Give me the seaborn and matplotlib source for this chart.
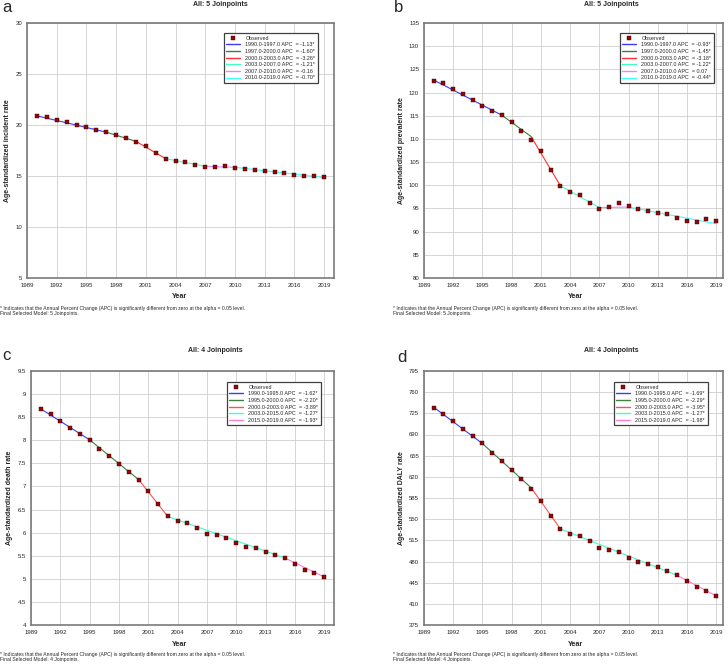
import numpy as np
import pandas as pd
import matplotlib
matplotlib.use("Agg")
import matplotlib.pyplot as plt
import seaborn as sns
from matplotlib.lines import Line2D

years = list(range(1990, 2020))

incidence = [20.85, 20.75, 20.52, 20.29, 20.0, 19.8, 19.54, 19.31, 19.05, 18.73,
             18.37, 17.94, 17.25, 16.67, 16.47, 16.34, 16.08, 15.85, 15.88, 15.95,
             15.82, 15.69, 15.59, 15.49, 15.39, 15.29, 15.13, 15.0, 15.0, 14.87]
prevalence = [122.5, 122.1, 120.8, 119.6, 118.3, 117.2, 116.0, 115.1, 113.7, 111.7,
              109.8, 107.3, 103.3, 99.9, 98.5, 97.8, 96.2, 94.9, 95.3, 96.2,
              95.5, 94.9, 94.5, 94.0, 93.7, 93.0, 92.4, 92.1, 92.7, 92.2]
death = [8.67, 8.56, 8.41, 8.27, 8.14, 8.00, 7.82, 7.66, 7.49, 7.32,
         7.14, 6.90, 6.61, 6.36, 6.25, 6.20, 6.10, 5.97, 5.94, 5.89,
         5.77, 5.69, 5.66, 5.59, 5.52, 5.44, 5.33, 5.20, 5.13, 5.04]
daly = [734.5, 724.6, 711.5, 698.8, 687.8, 675.7, 659.8, 645.5, 631.2, 616.3,
        600.4, 580.1, 555.3, 534.4, 525.1, 521.8, 513.5, 502.5, 499.8, 496.0,
        485.5, 479.5, 476.2, 470.7, 464.1, 457.5, 448.1, 437.1, 431.1, 423.4]

# joinpoints and fitted values at them
jp_a = [1990, 1997, 2000, 2003, 2007, 2010, 2019]
fit_a = [20.9, 19.3, 18.4, 16.7, 15.95, 15.85, 14.85]
apc_a = ["-1.13*", "-1.60*", "-3.26*", "-1.21*", "-0.16", "-0.70*"]

jp_b = [1990, 1997, 2000, 2003, 2007, 2010, 2019]
fit_b = [122.7, 115.1, 110.5, 99.9, 95.2, 95.3, 91.7]
apc_b = ["-0.93*", "-1.45*", "-3.18*", "-1.22*", "0.07", "-0.44*"]

jp_c = [1990, 1995, 2000, 2003, 2015, 2019]
fit_c = [8.68, 8.01, 7.15, 6.35, 5.45, 5.04]
apc_c = ["-1.62*", "-2.20*", "-3.89*", "-1.27*", "-1.93*"]

jp_d = [1990, 1995, 2000, 2003, 2015, 2019]
fit_d = [735.0, 675.0, 602.0, 534.0, 457.0, 423.0]
apc_d = ["-1.69*", "-2.29*", "-3.95*", "-1.27*", "-1.98*"]

colors6 = ["#3c3cff", "#3f7f3f", "#ff3030", "#40ffc8", "#f080ff", "#40ffff"]
colors5 = ["#3c3cff", "#3f7f3f", "#ff5050", "#40ffc8", "#ff80d0"]

sns.set_style("whitegrid")
plt.rcParams['font.family'] = ['Liberation Sans', 'DejaVu Sans']

W, H = 728, 666
fig = plt.figure(figsize=(W / 100, H / 100), dpi=100)


def px_axes(l, t, r, b):
    return fig.add_axes([l / W, 1 - b / H, (r - l) / W, (b - t) / H])


def panel(box, obs, jp, fit, apc, cols, ylim, yticks, ylabel, xmax, title, nj,
          letter, letter_xy, title_xy, year_xy, foot_xy, ylab_x, leg_anchor):
    ax = px_axes(*box)
    df = pd.DataFrame({"Year": years, "Value": obs})
    handles = [Line2D([], [], marker='s', ls='none', color='#8b0a0a',
                      markeredgecolor='#4a0000', markersize=2.2, markeredgewidth=0.3)]
    labels = ["Observed"]
    for i in range(len(jp) - 1):
        seg = pd.DataFrame({"Year": [jp[i], jp[i + 1]], "Value": [fit[i], fit[i + 1]]})
        sns.lineplot(data=seg, x="Year", y="Value", ax=ax, color=cols[i], lw=0.8,
                     legend=False, zorder=3)
        handles.append(Line2D([], [], color=cols[i], lw=1.0))
        labels.append(f"{jp[i]}.0-{jp[i + 1]}.0 APC  = {apc[i]}")
    sns.scatterplot(data=df, x="Year", y="Value", ax=ax, marker='s', s=6,
                    color='#8b0a0a', edgecolor='#4a0000', linewidth=0.3, zorder=4,
                    legend=False)
    ax.set_xlim(1989, xmax)
    ax.set_ylim(*ylim)
    ax.set_xticks(list(range(1989, 2020, 3)))
    ax.set_yticks(yticks)
    ax.set_yticklabels([f"{v:g}" for v in yticks])
    ax.tick_params(labelsize=4.3, length=2, width=0.5, color='#888888', pad=1.5)
    ax.grid(True, color='#cfcfcf', lw=0.6)
    for s in ax.spines.values():
        s.set_color('#7a7a7a')
        s.set_linewidth(1.2)
    ax.set_xlabel("")
    ax.set_ylabel("")
    leg = ax.legend(handles, labels, loc='upper right', bbox_to_anchor=leg_anchor,
                    borderaxespad=0, fontsize=3.9, frameon=True, fancybox=False,
                    handlelength=2.6, handletextpad=0.9, labelspacing=0.3,
                    borderpad=0.5, framealpha=1)
    leg.get_frame().set_edgecolor('#404040')
    leg.get_frame().set_linewidth(0.9)
    fig.text(letter_xy[0] / W, 1 - letter_xy[1] / H, letter, fontsize=12,
             ha='left', va='center')
    fig.text(title_xy[0] / W, 1 - title_xy[1] / H, title, fontsize=5,
             fontweight='bold', ha='center', va='center')
    fig.text(year_xy[0] / W, 1 - year_xy[1] / H, "Year", fontsize=5.2,
             fontweight='bold', ha='center', va='center')
    fig.text(ylab_x / W, 1 - ((box[1] + box[3]) / 2) / H, ylabel, fontsize=5,
             fontweight='bold', ha='center', va='center', rotation=90)
    fig.text(foot_xy[0] / W, 1 - foot_xy[1] / H,
             "* Indicates that the Annual Percent Change (APC) is significantly different from zero at the alpha = 0.05 level.\n"
             f"Final Selected Model: {nj} Joinpoints.",
             fontsize=3.6, ha='left', va='top', linespacing=1.1)
    return ax


panel((27, 23, 334, 278), incidence, jp_a, fit_a, apc_a, colors6, (5, 30),
      [5, 10, 15, 20, 25, 30], "Age-standardized incident rate", 2020,
      "All: 5 Joinpoints", 5, "a", (2, 7), (220, 4), (180, 296), (0, 306), 8,
      (0.948, 0.961))

panel((424, 23, 723, 278), prevalence, jp_b, fit_b, apc_b, colors6, (80, 135),
      list(range(80, 136, 5)), "Age-standardized prevalent rate", 2019.7,
      "All: 5 Joinpoints", 5, "b", (394, 8), (611, 4), (576, 296), (393, 306), 401,
      (0.970, 0.961))

panel((31, 371, 334, 625), death, jp_c, fit_c, apc_c, colors5, (4, 9.5),
      [4, 4.5, 5, 5.5, 6, 6.5, 7, 7.5, 8, 8.5, 9, 9.5], "Age-standardized death rate", 2020,
      "All: 4 Joinpoints", 4, "c", (2, 355), (215, 351), (180, 644), (0, 652), 10,
      (0.957, 0.957))

panel((424, 371, 723, 625), daly, jp_d, fit_d, apc_d, colors5, (375, 795),
      list(range(375, 796, 35)), "Age-standardized DALY rate", 2019.7,
      "All: 4 Joinpoints", 4, "d", (397, 357), (611, 351), (576, 644), (393, 652), 401,
      (0.950, 0.957))

fig.savefig("out.png", dpi=100)
